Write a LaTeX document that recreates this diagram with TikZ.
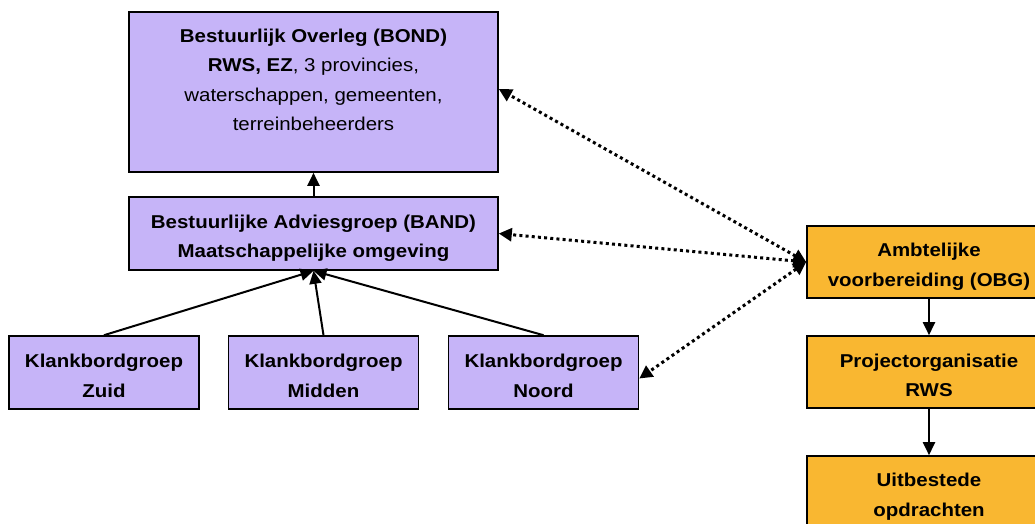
\documentclass[tikz,border=0pt]{standalone}
\usepackage{fontspec}
\setmainfont{Liberation Sans}[FakeStretch=1.1]
\usetikzlibrary{arrows.meta}
\definecolor{lav}{HTML}{C6B4F8}
\definecolor{orng}{HTML}{F9B731}
\newcommand{\dn}[1]{\rule{0pt}{#1}}
\begin{document}
\begin{tikzpicture}[x=1pt,y=-1pt,
  box/.style={draw=black,line width=1.6pt,rectangle,inner sep=0pt,align=center,
    font=\fontsize{18.6}{29.5}\selectfont\bfseries},
  pbox/.style={box,fill=lav},
  obox/.style={box,fill=orng},
  solidarr/.style={line width=2pt,-{Triangle[length=13pt,width=12pt]}},
  dotarr/.style={line width=3pt,dash pattern=on 3pt off 3.2pt,
    {Triangle[length=13pt,width=13pt]}-{Triangle[length=13pt,width=13pt]}}]
\useasboundingbox (0,0) rectangle (1035,523);
\node[pbox,minimum width=369,minimum height=160] (bond) at (313.5,92)
  {\dn{27pt}Bestuurlijk Overleg (BOND)\\ RWS, EZ\mdseries, 3 provincies,\\ \mdseries waterschappen, gemeenten,\\ \mdseries terreinbeheerders\\ \strut};
\node[pbox,minimum width=369,minimum height=73] (band) at (313.5,233.5)
  {\dn{23pt}Bestuurlijke Adviesgroep (BAND)\\ Maatschappelijke omgeving};
\node[pbox,minimum width=190,minimum height=73] (zuid) at (104,372.5)
  {\dn{20pt}Klankbordgroep\\ Zuid};
\node[pbox,minimum width=190,minimum height=73] (midden) at (323.5,372.5)
  {\dn{20pt}Klankbordgroep\\ Midden};
\node[pbox,minimum width=190,minimum height=73] (noord) at (543.5,372.5)
  {\dn{20pt}Klankbordgroep\\ Noord};
\node[obox,minimum width=244,minimum height=72] (obg) at (929,262)
  {\dn{23pt}Ambtelijke\\ voorbereiding (OBG)};
\node[obox,minimum width=244,minimum height=72] (proj) at (929,372)
  {\dn{20pt}Projectorganisatie\\ RWS};
\node[obox,minimum width=244,minimum height=72] (uit) at (929,492)
  {\dn{23pt}Uitbestede\\ opdrachten};
\draw[solidarr] (band.north) -- (bond.south);
\draw[solidarr] (zuid.north) -- (band.south);
\draw[solidarr] (midden.north) -- (band.south);
\draw[solidarr] (noord.north) -- (band.south);
\draw[solidarr] (obg.south) -- (proj.north);
\draw[solidarr] (proj.south) -- (uit.north);
\draw[dotarr] (obg.west) -- ([yshift=3pt]bond.east);
\draw[dotarr] (obg.west) -- (band.east);
\draw[dotarr] (obg.west) -- ([yshift=-6pt]noord.east);
\end{tikzpicture}
\end{document}
